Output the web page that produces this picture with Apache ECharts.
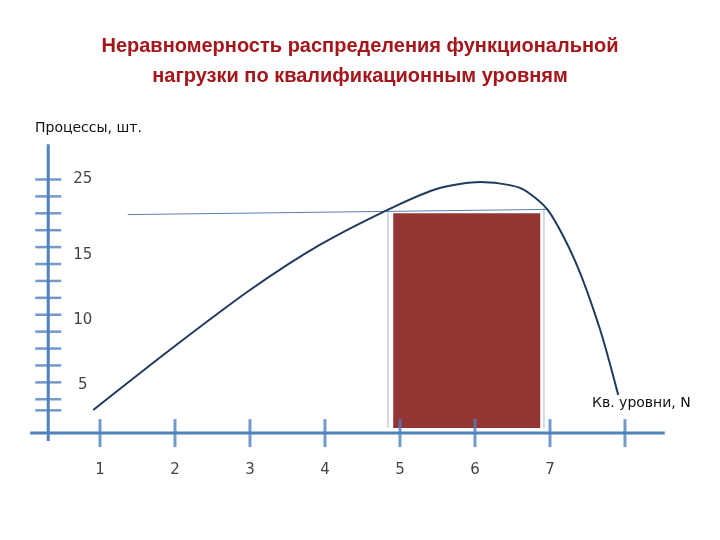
<!DOCTYPE html>
<html><head><meta charset="utf-8">
<script src="https://cdn.jsdelivr.net/npm/echarts@6/dist/echarts.min.js"></script>
<style>html,body{margin:0;background:#fff}#c{width:720px;height:540px}</style></head>
<body><div id="c"></div><script>
const xLabels = ['1','2','3','4','5','6','7'];
const xTicks = [1,2,3,4,5,6,7,8];
const yLabels = ['5','10','15','25'];
const yLabelPos = [5,10,15,20.8];
const yTicks = [20.8,19.5,18.2,16.9,15.6,14.3,13,11.7,10.4,9.1,7.8,6.5,5.2,3.9,3.05];
const curve = [[0.91,3.08],[1.93,7.69],[3.0,12.3],[3.93,15.77],[4.92,18.7],[5.53,20.15],[6.07,20.6],[6.6,20.15],[6.97,18.46],[7.33,14.6],[7.67,9.23],[7.91,4.23]];
const rectX = [4.91,6.87], rectY = [1.7,18.2];
const axisC = '#4f81bd';
const ch = echarts.init(document.getElementById('c'));
ch.setOption({
  animation:false,
  title:{text:'Неравномерность распределения функциональной\nнагрузки по квалификационным уровням',left:'center',top:26,
    textStyle:{color:'#a4161a',fontSize:20,fontWeight:'bold',lineHeight:30,fontFamily:'Liberation Sans'}},
  grid:{left:0,right:0,top:0,bottom:0},
  xAxis:{type:'value',min:-0.333,max:9.267,show:false},
  yAxis:{type:'value',min:-6.92,max:34.6,show:false},
  graphic:[
    {type:'text',left:35,top:121,style:{text:'Процессы, шт.',fontSize:14,fill:'#111',fontFamily:'DejaVu Sans'}},
    {type:'text',left:592,top:396,style:{text:'Кв. уровни, N',fontSize:14,fill:'#111',fontFamily:'DejaVu Sans'}}
  ],
  series:[
    {type:'line',data:[[0.07,1.3],[8.53,1.3]],symbol:'none',lineStyle:{color:axisC,width:3},z:3},
    {type:'line',data:[[0.31,0.7],[0.31,23.5]],symbol:'none',lineStyle:{color:axisC,width:3},z:3},
    {type:'scatter',data:xTicks.map(x=>[x,1.3]),symbol:'rect',symbolSize:[3,28],itemStyle:{color:axisC},z:3},
    {type:'scatter',data:yTicks.map(y=>[0.31,y]),symbol:'rect',symbolSize:[26,2.5],itemStyle:{color:axisC},z:3},
    {type:'scatter',data:xLabels.map((l,i)=>[i+1,-1.54]),symbolSize:0,
      label:{show:true,formatter:p=>xLabels[p.dataIndex],color:'#111',fontSize:15,fontFamily:'DejaVu Sans'}},
    {type:'scatter',data:yLabelPos.map(y=>[0.77,y]),symbolSize:0,
      label:{show:true,formatter:p=>yLabels[p.dataIndex],color:'#111',fontSize:15,fontFamily:'DejaVu Sans'}},
    {type:'line',data:[[rectX[0]-0.07,rectY[0]],[rectX[0]-0.07,rectY[1]+0.4]],symbol:'none',lineStyle:{color:'#a6b4c8',width:1}},
    {type:'line',data:[[rectX[1]+0.05,rectY[0]],[rectX[1]+0.05,rectY[1]+0.4]],symbol:'none',lineStyle:{color:'#a6b4c8',width:1}},
    {type:'line',data:[[1.37,18.1],[6.97,18.5]],symbol:'none',lineStyle:{color:'#5a7fae',width:1}},
    {type:'line',data:[],markArea:{silent:true,itemStyle:{color:'#943634'},data:[[{coord:[rectX[0],rectY[1]]},{coord:[rectX[1],rectY[0]]}]]}},
    {type:'line',data:curve,smooth:0.25,symbol:'none',lineStyle:{color:'#1f3a5f',width:2},z:4}
  ]
});
</script></body></html>
